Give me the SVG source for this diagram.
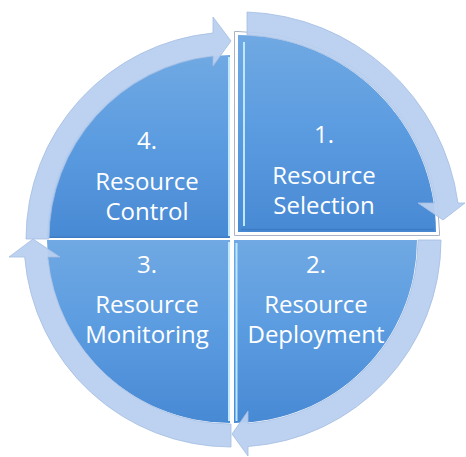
<svg xmlns="http://www.w3.org/2000/svg" width="466" height="457" viewBox="0 0 466 457">
  <defs>
    <linearGradient id="qfill" x1="0" y1="0" x2="0" y2="1">
      <stop offset="0" stop-color="#70a9e3"/>
      <stop offset="0.5" stop-color="#5a9be0"/>
      <stop offset="1" stop-color="#4889d4"/>
    </linearGradient>
    <style>
      .quad { fill: url(#qfill); }
      .hl { stroke: #bde8ff; stroke-width: 2; fill: none; }
      .dk { stroke: #3d7cc4; stroke-width: 1.5; fill: none; }
      .arrow { fill: #b9d0ef; fill-opacity: 0.95; stroke: #a3bde2; stroke-width: 0.8; }
      .lbl { font-family: "Open Sans", "Noto Sans", "Liberation Sans", sans-serif; font-size: 24px; fill: #ffffff; text-anchor: middle; }
    </style>
  </defs>
  <rect width="466" height="457" fill="#ffffff"/>

  <g id="node4">
    <path class="quad" d="M230,238 L47,238 A183,183 0 0 1 230,55 Z"/>
    <line class="hl" x1="229" y1="57" x2="229" y2="236"/>
    <line class="dk" x1="49" y1="237.3" x2="229" y2="237.3"/>
    <text class="lbl" x="147" y="149">4.</text>
    <text class="lbl" x="147" y="190">Resource</text>
    <text class="lbl" x="147" y="220">Control</text>
  </g>

  <g id="node3">
    <path class="quad" d="M230,240 L47,240 A183,183 0 0 0 230,423 Z"/>
    <line class="hl" x1="229" y1="242" x2="229" y2="421"/>
    <text class="lbl" x="147" y="273">3.</text>
    <text class="lbl" x="147" y="313">Resource</text>
    <text class="lbl" x="147" y="343">Monitoring</text>
  </g>

  <g id="node2">
    <path class="quad" d="M234,240 L417,240 A183,183 0 0 1 234,423 Z"/>
    <line class="hl" x1="236.5" y1="243" x2="236.5" y2="421"/>
    <text class="lbl" x="316" y="273">2.</text>
    <text class="lbl" x="316" y="313">Resource</text>
    <text class="lbl" x="316" y="343">Deployment</text>
  </g>

  <g id="node1">
    <path d="M238,232 L238,35 A198,198 0 0 1 436,232 Z" fill="none" stroke="#8d9bb0" stroke-width="7.5"/>
    <path d="M238,232 L238,35 A198,198 0 0 1 436,232 Z" fill="none" stroke="#ffffff" stroke-width="6"/>
    <path class="quad" d="M238,232 L238,35 A198,198 0 0 1 436,232 Z"/>
    <line class="hl" x1="244" y1="42" x2="244" y2="226" stroke="#a9dcff"/>
    <line class="dk" x1="241" y1="229.5" x2="434" y2="229.5"/>
    <text class="lbl" x="324" y="143">1.</text>
    <text class="lbl" x="324" y="183.5">Resource</text>
    <text class="lbl" x="324" y="213.5">Selection</text>
  </g>

  <g id="connectors">
    <path class="arrow" d="M26,239 A207,207 0 0 1 213,33 L213,17 L231,41 L213,66 L213,56 A184,184 0 0 0 49,239 Z"/>
    <path class="arrow" d="M231,447 A207,207 0 0 1 24.7,257 L9,257 L33,239 L60,257 L47.8,257 A184,184 0 0 0 231,424 Z"/>
    <path class="arrow" d="M441,240 A207,207 0 0 1 248,446.5 L248,456 L232,434 L248,411 L248,423.5 A184,184 0 0 0 418,240 Z"/>
    <path class="arrow" d="M247,12 A221,221 0 0 1 458,203 L465,203 L443,220 L418,203 L434.7,203 A198,198 0 0 0 247,35.2 Z"/>
  </g>
</svg>
